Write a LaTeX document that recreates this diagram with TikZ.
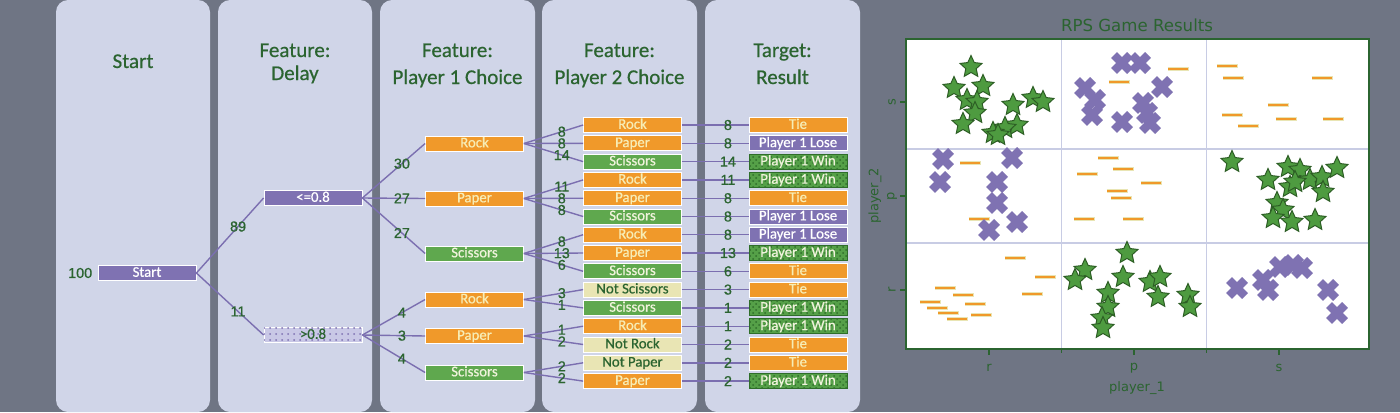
\documentclass[tikz,border=0pt]{standalone}
\usepackage{fontspec}
\setmainfont{Carlito}
\newfontfamily\heavyfont[FakeBold=0.6]{Carlito}
\newfontfamily\labfont[FakeBold=0.7]{Liberation Sans}
\newfontfamily\mplfont{DejaVu Sans}
\usetikzlibrary{shapes.geometric,patterns}
\definecolor{bgc}{HTML}{6F7584}
\definecolor{panelc}{HTML}{D0D5E8}
\definecolor{dgreen}{HTML}{2B6430}
\definecolor{purplec}{HTML}{7F72B2}
\definecolor{orangec}{HTML}{F0992A}
\definecolor{greenc}{HTML}{5FA84E}
\definecolor{palec}{HTML}{E9E5B4}
\definecolor{lighty}{HTML}{F7EDB5}
\definecolor{lightg}{HTML}{F0F3DC}
\definecolor{winc}{HTML}{55A048}
\definecolor{windark}{HTML}{2F6E2A}
\definecolor{edgec}{HTML}{7B6FB0}
\definecolor{gtc}{HTML}{C9C8E6}
\definecolor{gridc}{HTML}{C8CCE4}
\definecolor{starc}{HTML}{4E9B40}
\definecolor{stardark}{HTML}{2D5E25}
\begin{document}
\begin{tikzpicture}[x=0.5pt,y=-0.5pt,
  ttl/.style={font=\heavyfont\fontsize{10.5pt}{12pt}\selectfont, text=dgreen, anchor=base, inner sep=0pt},
  box/.style={minimum width=49pt, minimum height=7.5pt, inner sep=0pt, text height=5.2pt, text depth=1.4pt,
    font=\heavyfont\fontsize{7.4pt}{8pt}\selectfont, draw=white, line width=0.4pt},
  rock/.style={box, fill=orangec, text=lighty},
  scis/.style={box, fill=greenc, text=lightg},
  notx/.style={box, fill=palec, text=dgreen},
  lose/.style={box, fill=purplec, text=white},
  win/.style={box, fill=winc, draw=windark, text=lightg, postaction={pattern=crosshatch dots, pattern color=windark}},
  gtbox/.style={box, fill=gtc, text=dgreen, postaction={pattern=dots, pattern color=purplec}},
  edge/.style={draw=edgec, line width=0.7pt},
  lbl/.style={font=\labfont\fontsize{7.2pt}{8pt}\selectfont, text=dgreen, inner sep=0pt},
  mpl/.style={font=\mplfont\fontsize{6.5pt}{7pt}\selectfont, text=dgreen, inner sep=0pt},
  starmark/.style={star, star points=5, star point ratio=2.1, minimum size=11.5pt, inner sep=0pt, fill=starc, draw=stardark, line width=0.5pt},
  xmark/.style={draw=purplec, line width=4.2pt},
  hlout/.style={draw=palec, line width=2.2pt},
  hlin/.style={draw=orangec, line width=1.4pt}
]
\useasboundingbox (0,0) rectangle (1400,412);
\fill[bgc] (0,0) rectangle (1400,412);
\foreach \a/\b in {56/210,218/372,380/535,542/697,705/860}
  \fill[panelc, rounded corners=6pt] (\a,0) rectangle (\b,412);

% titles
\node[ttl] (t1) at (133,68) {Start};
\node[ttl] (t2a) at (295,57) {Feature:};
\node[ttl] (t2b) at (295,80) {Delay};
\node[ttl] (t3a) at (457.5,57) {Feature:};
\node[ttl] (t3b) at (457.5,84) {Player 1 Choice};
\node[ttl] (t4a) at (619.5,57) {Feature:};
\node[ttl] (t4b) at (619.5,84) {Player 2 Choice};
\node[ttl] (t5a) at (782.5,57) {Target:};
\node[ttl] (t5b) at (782.5,84) {Result};

% tree level 1-2
\node[lose] (start) at (147,273) {Start};
\node[lbl, anchor=east] (l100) at ([xshift=-2.5pt]start.west) {100};
\node[lose] (le) at (313,198) {<=0.8};
\node[gtbox] (gt) at (313,335) {>0.8};
\draw[edge] (start.east) -- node[lbl, pos=0.62] (l89) {89} (le.west);
\draw[edge] (start.east) -- node[lbl, pos=0.62] (l11) {11} (gt.west);

% level 3
\node[rock] (r1) at (474.5,143.5) {Rock};
\node[rock] (p1) at (474.5,198.5) {Paper};
\node[scis] (s1) at (474.5,253.5) {Scissors};
\node[rock] (r2) at (474.5,299.5) {Rock};
\node[rock] (p2) at (474.5,336) {Paper};
\node[scis] (s2) at (474.5,372.5) {Scissors};
\draw[edge] (le.east) -- node[lbl, pos=0.63] (l30) {30} (r1.west);
\draw[edge] (le.east) -- node[lbl, pos=0.63] (l27a) {27} (p1.west);
\draw[edge] (le.east) -- node[lbl, pos=0.63] (l27b) {27} (s1.west);
\draw[edge] (gt.east) -- node[lbl, pos=0.63] (l4a) {4} (r2.west);
\draw[edge] (gt.east) -- node[lbl, pos=0.63] (l3) {3} (p2.west);
\draw[edge] (gt.east) -- node[lbl, pos=0.63] (l4b) {4} (s2.west);

% levels 4-5
\foreach \k/\yy/\ct/\cs/\pa/\nn/\rs/\rt in {
  1/125/Rock/rock/r1/8/rock/Tie,
  2/143.3/Paper/rock/r1/8/lose/Player 1 Lose,
  3/161.6/Scissors/scis/r1/14/win/Player 1 Win,
  4/179.9/Rock/rock/p1/11/win/Player 1 Win,
  5/198.2/Paper/rock/p1/8/rock/Tie,
  6/216.5/Scissors/scis/p1/8/lose/Player 1 Lose,
  7/234.7/Rock/rock/s1/8/lose/Player 1 Lose,
  8/253/Paper/rock/s1/13/win/Player 1 Win,
  9/271.3/Scissors/scis/s1/6/rock/Tie,
  10/289.6/Not Scissors/notx/r2/3/rock/Tie,
  11/307.9/Scissors/scis/r2/1/win/Player 1 Win,
  12/326.2/Rock/rock/p2/1/win/Player 1 Win,
  13/344.5/Not Rock/notx/p2/2/rock/Tie,
  14/362.8/Not Paper/notx/s2/2/rock/Tie,
  15/381.1/Paper/rock/s2/2/win/Player 1 Win}{
  \node[\cs] (c\k) at (632.5,\yy) {\ct};
  \node[\rs] (d\k) at (798,\yy) {\rt};
  \draw[edge] (\pa.east) -- node[lbl, pos=0.64] (m\k) {\nn} (c\k.west);
  \draw[edge] (c\k.east) -- node[lbl, pos=0.69] (n\k) {\nn} (d\k.west);
}

% scatter plot
\node[mpl, font=\mplfont\fontsize{8.3pt}{9pt}\selectfont] (ptitle) at (1137,25) {RPS Game Results};
\fill[white] (906,39) rectangle (1369,349);
\draw[gridc, line width=0.8pt] (1061.5,39) -- (1061.5,349) (1206.5,39) -- (1206.5,349)
  (906,149) -- (1369,149) (906,243) -- (1369,243);

% hlines (ties)
\foreach \x/\y in {1227/66,1233/78,1232/115,1248/126,1278/105,1286/119,1322/78,1333/119,1178/69,1119/82,
  970/163,979/219,
  1108/158,1087/174,1123/169,1151/183,1117/191,1121/198,1084/219,1133/219,
  1015/258,1045/277,945/288,963/295,930/302,937/308,975/304,1032/294,948/313,981/315,957/319}{
  \draw[hlout] ({\x-10.5},\y) -- ({\x+10.5},\y);
  \draw[hlin] ({\x-10},\y) -- ({\x+10},\y);
}
% X marks (lose)
\foreach \x/\y in {1122/63,1140/63,1085/88,1095/100,1092/115,1122/122,1162/87,1143/103,1147/113,1150/123,
  943/159,940/182,997/182,997/203,989/230,1012/158,1017/222,
  1237/288,1263/280,1268/290,1280/267,1293/265,1302/268,1328/290,1337/313}{
  \draw[xmark] ({\x-8},{\y-8}) -- ({\x+8},{\y+8}) ({\x-8},{\y+8}) -- ({\x+8},{\y-8});
}
% stars (win)
\foreach \x/\y [count=\i] in {971/67,954/88,983/86,967/100,977/102,975/113,963/124,1013/105,1033/98,1043/102,1017/125,1005/128,993/133,998/135,
  1232/162,1268/180,1288/167,1300/170,1290/187,1310/180,1322/177,1337/168,1323/192,1277/203,1283/210,1273/218,1292/222,1315/220,1295/182,
  1127/253,1085/270,1075/280,1123/277,1108/293,1150/282,1160/277,1158/297,1108/307,1102/318,1103/328,1188/295,1190/307}{
  \node[starmark] (st\i) at (\x,\y) {};
}

\draw[dgreen, line width=0.6pt] (906,39) rectangle (1369,349);
\foreach \x/\t in {989/r,1134/p,1279/s}{
  \draw[dgreen, line width=0.6pt] (\x,349) -- (\x,355);
  \node[mpl] (xt\t) at (\x,368) {\t};
}
\foreach \x in {1061.5,1206.5} \draw[dgreen, line width=0.5pt] (\x,349) -- (\x,353);
\foreach \y/\t in {102/s,196/p,290/r}{
  \draw[dgreen, line width=0.6pt] (906,\y) -- (900,\y);
  \node[mpl, rotate=90] (yt\t) at (892,\y) {\t};
}
\node[mpl] (xlab) at (1137,388) {player\_1};
\node[mpl, rotate=90] (ylab) at (875,196) {player\_2};
\end{tikzpicture}
\end{document}
